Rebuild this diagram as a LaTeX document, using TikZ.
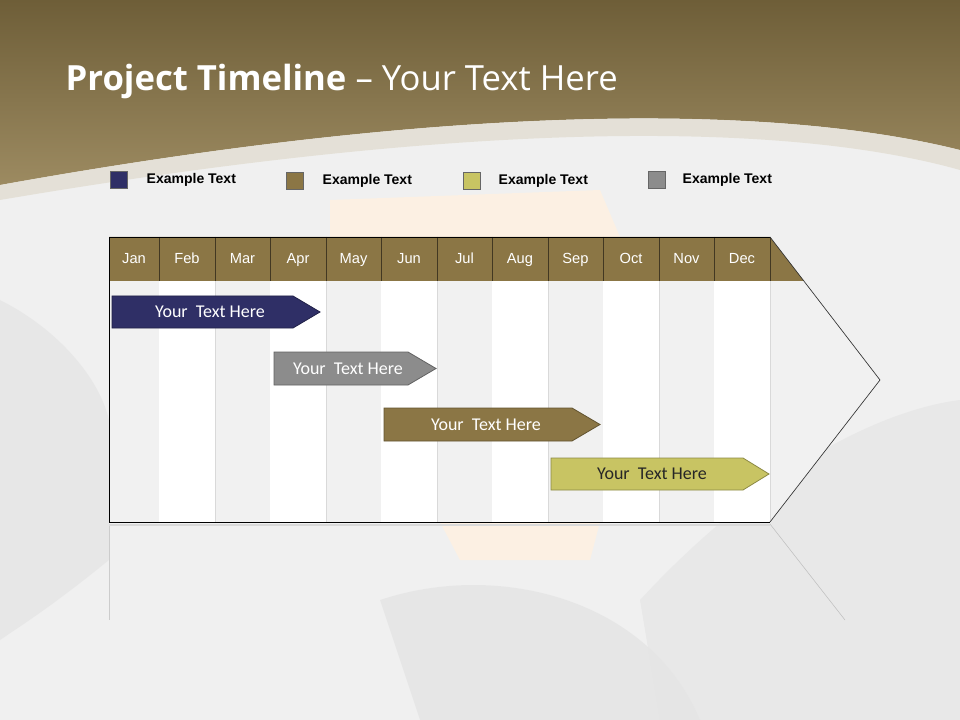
\documentclass[tikz,border=0pt]{standalone}
\usepackage{fontspec}
\setmainfont{Liberation Sans}
\newfontfamily\titlefont{Open Sans}
\newfontfamily\calfont{Carlito}
\usetikzlibrary{calc}
\definecolor{brn}{HTML}{8B7645}
\definecolor{brnd}{HTML}{6E5E38}
\definecolor{navy}{HTML}{2F2F66}
\definecolor{gry}{HTML}{8C8C8C}
\definecolor{olv}{HTML}{C8C463}
\definecolor{colg}{HTML}{F1F1F1}
\begin{document}
\begin{tikzpicture}[x=0.75pt,y=-0.75pt,
  mon/.style={font=\fontsize{11}{13}\selectfont,text=white,anchor=base},
  bar/.style={draw=#1!70!black,fill=#1,line width=0.6pt},
  bartext/.style={font=\calfont\fontsize{13.5}{15}\selectfont},
  leg/.style={draw=black!60,minimum size=13pt,inner sep=0pt},
  legtext/.style={font=\fontsize{10.5}{12}\selectfont\bfseries,anchor=west}]
\useasboundingbox (0,0) rectangle (960,720);
% background
\fill[black!6] (0,0) rectangle (960,720);
\fill[black!11,opacity=0.7] (380,600) .. controls (500,560) and (650,600) .. (700,720) -- (420,720) -- cycle;
\fill[black!10,opacity=0.7] (640,600) .. controls (760,470) and (880,410) .. (960,400) -- (960,720) -- (660,720) -- cycle;
\fill[black!12,opacity=0.5] (0,300) .. controls (60,330) and (100,380) .. (109,420) -- (109,560) .. controls (60,600) and (30,620) .. (0,640) -- cycle;
\fill[orange!12,opacity=0.8] (330,200) -- (600,190) -- (620,237) -- (330,237) -- cycle;
\fill[orange!12,opacity=0.8] (440,522) -- (600,522) -- (590,560) -- (460,560) -- cycle;
\shade[top color=brnd,bottom color=brn!85!white] (0,0) -- (960,0) -- (960,150) .. controls (800,110) and (500,95) .. (0,185) -- cycle;
\fill[brn!25!white,opacity=0.8] (0,185) .. controls (500,95) and (800,110) .. (960,150) -- (960,170) .. controls (800,125) and (500,115) .. (0,200) -- cycle;
\node[anchor=west,text=white,font=\titlefont\fontsize{26}{30}\selectfont] (title) at (61,81) {\textbf{Project Timeline} – Your Text Here};
% legend
\node[leg,fill=navy] (l1) at (119,180) {}; \node[legtext] (t1) at (142,180) {Example Text};
\node[leg,fill=brn] (l2) at (295,181) {}; \node[legtext] (t2) at (318,181) {Example Text};
\node[leg,fill=olv] (l3) at (472,181) {}; \node[legtext] (t3) at (494,181) {Example Text};
\node[leg,fill=gry] (l4) at (657,180) {}; \node[legtext] (t4) at (678,180) {Example Text};
% chart
\coordinate (tl) at (109,237); \coordinate (tip) at (880,380); \coordinate (bl) at (109,522);
\fill[colg] (109,281) -- (770,281) -- (805,281) -- (880,380) -- (770,522) -- (109,522) -- cycle;
\fill[brn] (109,237) -- (770,237) -- (804,281) -- (109,281) -- cycle;
\foreach \a/\b/\m [count=\i] in {109/159/Jan,159/215/Feb,215/270/Mar,270/326/Apr,326/381/May,381/437/Jun,437/492/Jul,492/548/Aug,548/603/Sep,603/659/Oct,659/714/Nov,714/770/Dec}{
  \ifodd\i\else\fill[white] (\a,281) rectangle (\b,522);\fi
  \draw[black!15] (\b,281) -- (\b,522);
  \draw[brnd!60!black] (\b,237) -- (\b,281);
  \node[mon] (m\i) at ({(\a+\b)/2},264) {\m};
}
\draw[black,line width=0.6pt] (770,237) -- (109,237) -- (109,522) -- (770,522);
\draw[black!80,line width=0.5pt] (770,237) -- (tip) -- (770,522);
% reflection
\draw[black!20] (109,524) -- (109,620);
\draw[black!25] (770,524) -- (845,620);
\draw[black!15,line width=2pt] (109,525) -- (770,525);
% bars
\draw[bar=navy] (112,296) -- (293,296) -- (320,312) -- (293,328) -- (112,328) -- cycle;
\node[bartext,text=white] (b1) at (210,312) {Your\ \ Text Here};
\draw[bar=gry] (274,352) -- (408,352) -- (436,368.5) -- (408,385) -- (274,385) -- cycle;
\node[bartext,text=white] (b2) at (348,368.5) {Your\ \ Text Here};
\draw[bar=brn] (384,408) -- (572,408) -- (600,424.5) -- (572,441) -- (384,441) -- cycle;
\node[bartext,text=white] (b3) at (486,424.5) {Your\ \ Text Here};
\draw[bar=olv] (551,458) -- (743,458) -- (769,474) -- (743,490) -- (551,490) -- cycle;
\node[bartext,text=black!85] (b4) at (652,474) {Your\ \ Text Here};
\end{tikzpicture}
\end{document}
